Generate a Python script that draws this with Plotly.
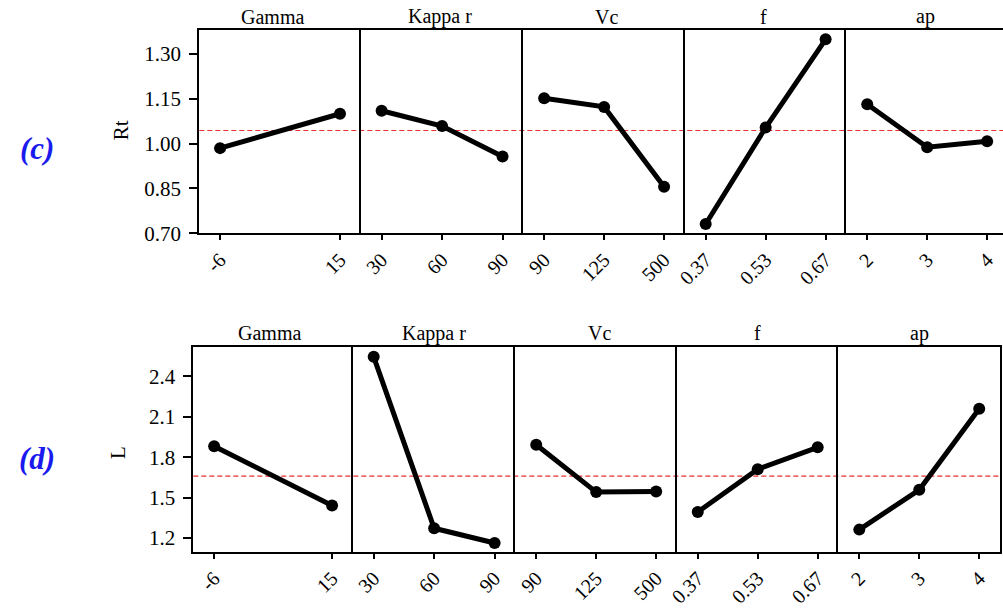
import plotly.graph_objects as go

factors = ["Gamma", "Kappa r", "Vc", "f", "ap"]
levels = [["-6", "15"], ["30", "60", "90"], ["90", "125", "500"],
          ["0.37", "0.53", "0.67"], ["2", "3", "4"]]
rt_means = [[0.985, 1.100], [1.110, 1.059, 0.957], [1.152, 1.123, 0.856],
            [0.731, 1.054, 1.349], [1.132, 0.988, 1.008]]
l_means = [[1.880, 1.442], [2.543, 1.273, 1.164], [1.892, 1.541, 1.546],
           [1.394, 1.711, 1.873], [1.263, 1.558, 2.158]]
rt_mean = 1.044
l_mean = 1.660
rt_ticks = [0.70, 0.85, 1.00, 1.15, 1.30]
l_ticks = [1.2, 1.5, 1.8, 2.1, 2.4]

W, H = 1003, 608
FONT = "Liberation Serif"

rows = [
    dict(data=rt_means, mean=rt_mean, ticks=rt_ticks, fmt="{:.2f}", yr=[0.70, 1.379],
         top=31, bottom=238, edges=[192, 355, 519, 682, 845, 1008], label="Rt",
         label_xy=(113, 133), tag="(c)", tag_xy=(28, 151), head_y=17,
         head_x=[266, 435, 603, 761, 925], right_border=False),
    dict(data=l_means, mean=l_mean, ticks=l_ticks, fmt="{:.1f}", yr=[1.098, 2.616],
         top=354, bottom=563, edges=[186, 347, 511, 674, 837, 1000], label="L",
         label_xy=(110, 462), tag="(d)", tag_xy=(28, 468), head_y=340,
         head_x=[263, 429, 596, 755, 919], right_border=True),
]

fig = go.Figure()
layout = {}
annotations = []
shapes = []
idx = 0
for r, row in enumerate(rows):
    first_idx = idx + 1
    for c in range(5):
        idx += 1
        xa = "xaxis" if idx == 1 else f"xaxis{idx}"
        ya = "yaxis" if idx == 1 else f"yaxis{idx}"
        xref = "x" if idx == 1 else f"x{idx}"
        yref = "y" if idx == 1 else f"y{idx}"
        x0, x1 = row["edges"][c], row["edges"][c + 1]
        n = len(levels[c])
        span = x1 - x0
        # points sit ~21px inside the panel edges
        unit = (span - 42) / (n - 1)
        pad = 21 / unit
        rmax = (n - 1) + pad
        if x1 > W:
            rmax -= (x1 - W) / unit
            x1 = W
        vals = row["data"][c]
        fig.add_trace(go.Scatter(
            x=list(range(n)), y=vals, mode="lines+markers",
            line=dict(color="black", width=5),
            marker=dict(color="black", size=12),
            xaxis=xref, yaxis=yref, showlegend=False, hoverinfo="skip"))
        layout[xa] = dict(
            domain=[x0 / W, x1 / W], range=[-pad, rmax], anchor=yref,
            tickvals=list(range(n)), ticktext=levels[c], tickangle=-45,
            ticks="outside", ticklen=5, tickwidth=1.5, tickcolor="black",
            showline=True, linecolor="black", linewidth=2, mirror=True,
            showgrid=False, zeroline=False,
            tickfont=dict(family=FONT, size=20, color="black"))
        ydict = dict(
            domain=[1 - row["bottom"] / H, 1 - row["top"] / H], range=row["yr"],
            anchor=xref, showline=True, linecolor="black", linewidth=2,
            showgrid=False, zeroline=False,
            mirror=(c == 4 and row["right_border"]))
        if c == 0:
            ydict.update(tickvals=row["ticks"],
                         ticktext=[row["fmt"].format(t) for t in row["ticks"]],
                         ticks="outside", ticklen=8, tickwidth=2, tickcolor="black",
                         ticklabelstandoff=4,
                         tickfont=dict(family=FONT, size=21, color="black"))
        else:
            ydict.update(showticklabels=False, ticks="")
        layout[ya] = ydict
        annotations.append(dict(
            text=factors[c], x=row["head_x"][c] / W,
            y=1 - row["head_y"] / H, xref="paper", yref="paper",
            xanchor="center", yanchor="middle", showarrow=False,
            font=dict(family=FONT, size=20, color="black")))
    first_yref = "y" if first_idx == 1 else f"y{first_idx}"
    shapes.append(dict(
        type="line", xref="paper", yref=first_yref,
        x0=row["edges"][0] / W, x1=min(row["edges"][-1], W) / W,
        y0=row["mean"], y1=row["mean"],
        line=dict(color="#f03030", width=1.2, dash="5px,3px"), layer="below"))
    annotations.append(dict(
        text=row["label"], x=row["label_xy"][0] / W, y=1 - row["label_xy"][1] / H,
        xref="paper", yref="paper", textangle=-90, showarrow=False,
        xanchor="center", yanchor="middle",
        font=dict(family=FONT, size=21, color="black")))
    annotations.append(dict(
        text="<b><i>" + row["tag"] + "</i></b>", x=row["tag_xy"][0] / W,
        y=1 - row["tag_xy"][1] / H, xref="paper", yref="paper", showarrow=False,
        xanchor="center", yanchor="middle",
        font=dict(family=FONT, size=31, color="#1a1aee")))

fig.update_layout(**layout)
fig.update_layout(
    width=W, height=H, margin=dict(l=0, r=0, t=0, b=0),
    paper_bgcolor="white", plot_bgcolor="white",
    annotations=annotations, shapes=shapes, showlegend=False)
fig.write_html("out.html")
